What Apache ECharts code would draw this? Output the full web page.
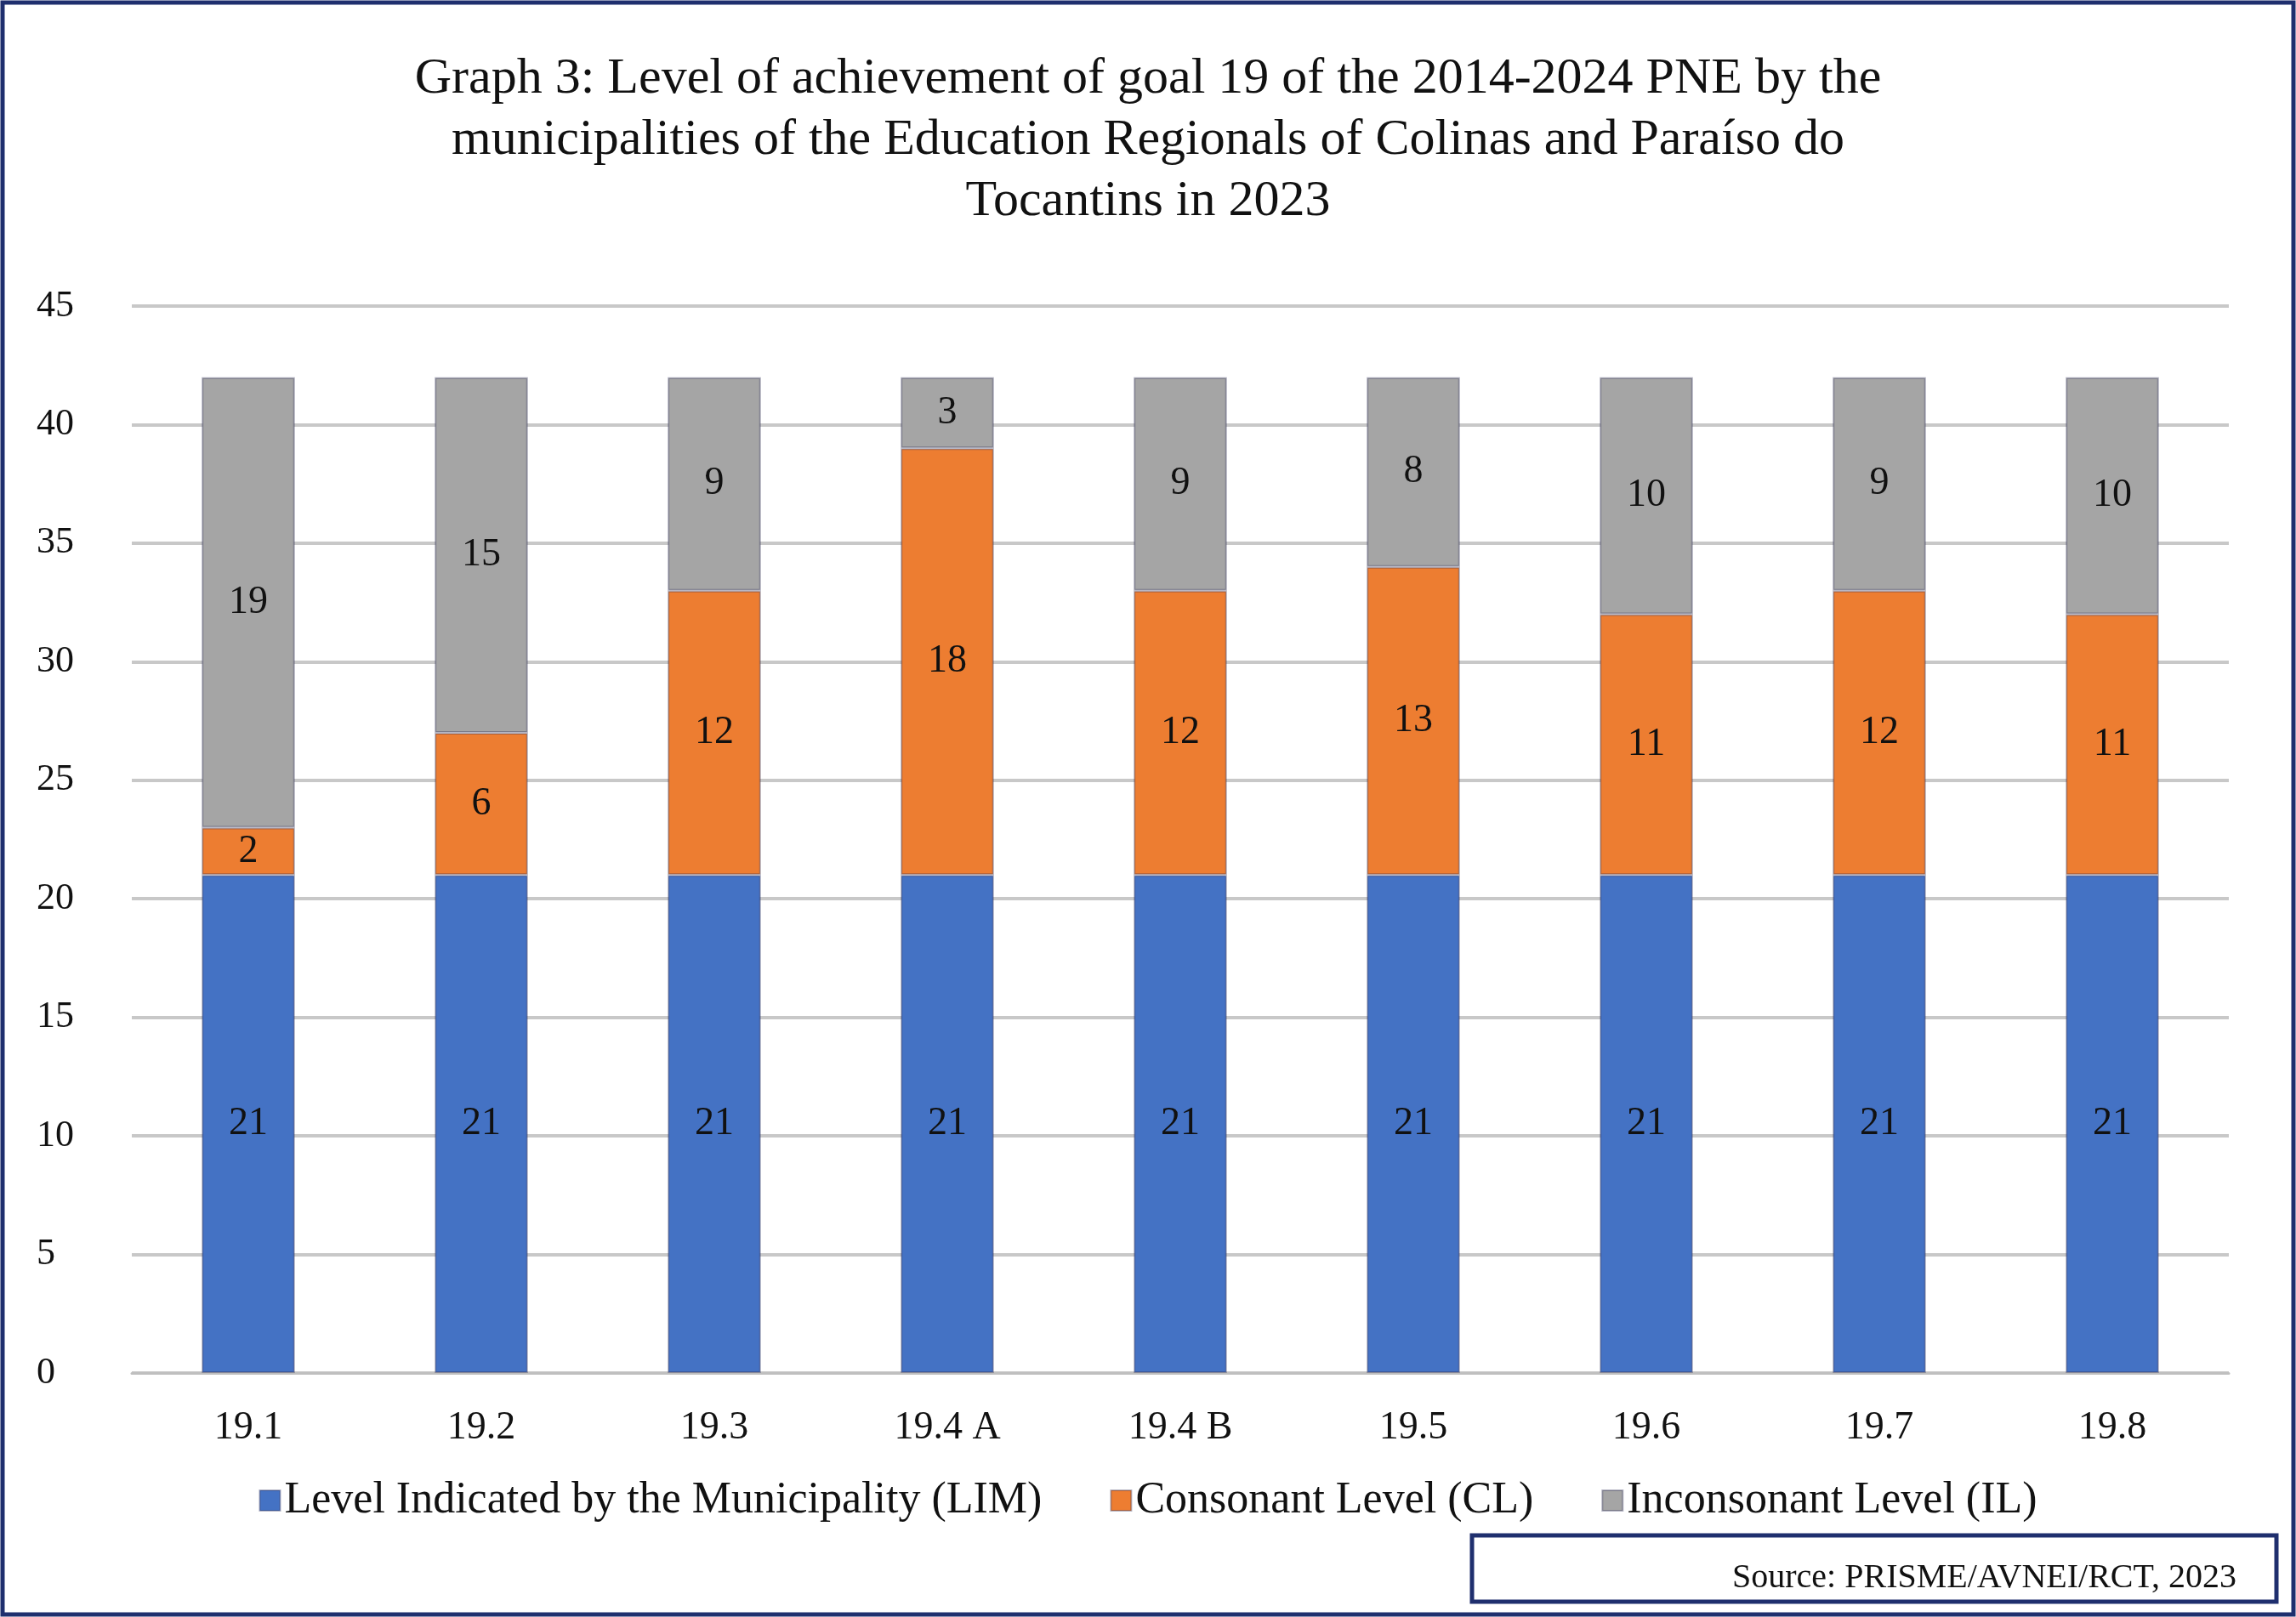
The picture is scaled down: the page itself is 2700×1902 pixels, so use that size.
<!DOCTYPE html>
<html><head><meta charset="utf-8">
<script src="https://cdn.jsdelivr.net/npm/echarts@6/dist/echarts.min.js"></script>
<style>html,body{margin:0;padding:0;background:#fff}#main{width:2700px;height:1902px}</style>
</head><body><div id="main"></div>
<script>
var categories = ['19.1','19.2','19.3','19.4 A','19.4 B','19.5','19.6','19.7','19.8'];
var lim = [21,21,21,21,21,21,21,21,21];
var cl = [2,6,12,18,12,13,11,12,11];
var il = [19,15,9,3,9,8,10,9,10];
var seriesNames = ['Level Indicated by the Municipality (LIM)','Consonant Level (CL)','Inconsonant Level (IL)'];
var colors = ['#4472C4','#ED7D31','#A5A5A5'];
var font = 'Liberation Serif';

var myChart = echarts.init(document.getElementById('main'));
function mk(i,data){
	return {
		name:seriesNames[i], type:'bar', stack:'a', data:data, barWidth:'40%',
		itemStyle:{color:colors[i], borderColor:'rgba(40,40,80,0.35)', borderWidth:2},
		label:{show:true, color:'#111', fontFamily:font, fontSize:46}
	};
}
var option = {
	animation:false,
	textStyle:{fontFamily:font},
	title:{
		text:'Graph 3: Level of achievement of goal 19 of the 2014-2024 PNE by the\nmunicipalities of the Education Regionals of Colinas and Paraíso do\nTocantins in 2023',
		left:'center', top:52,
		textStyle:{fontFamily:font, fontSize:60, fontWeight:'normal', color:'#111', lineHeight:72}
	},
	grid:{left:155, right:79, top:360, bottom:287},
	legend:{
		bottom:106, itemWidth:24, itemHeight:24, itemGap:80,
		icon:'rect',
		textStyle:{fontFamily:font, fontSize:52, color:'#111'},
		data:seriesNames
	},
	xAxis:{
		type:'category', data:categories,
		axisLine:{lineStyle:{color:'#bfbfbf', width:3}},
		axisTick:{show:false},
		axisLabel:{fontFamily:font, fontSize:46, color:'#111', margin:42}
	},
	yAxis:{
		type:'value', min:0, max:45, interval:5,
		axisLine:{show:false}, axisTick:{show:false},
		axisLabel:{fontFamily:font, fontSize:44, color:'#111', margin:112, align:'left'},
		splitLine:{lineStyle:{color:'#c8c8c8', width:4}}
	},
	series:[mk(0,lim), mk(1,cl), mk(2,il)],
	graphic:[
		{type:'rect', shape:{x:3,y:3,width:2694,height:1896}, style:{fill:'none', stroke:'#1f2f6e', lineWidth:5}},
		{type:'rect', shape:{x:1731,y:1806,width:946,height:78}, style:{fill:'#fff', stroke:'#1f2f6e', lineWidth:5}},
		{type:'text', x:2630, y:1856, style:{text:'Source: PRISME/AVNEI/RCT, 2023', font:'40px "Liberation Serif"', fill:'#111', textAlign:'right', textVerticalAlign:'middle'}}
	]
};
myChart.setOption(option);
</script>
</body></html>
